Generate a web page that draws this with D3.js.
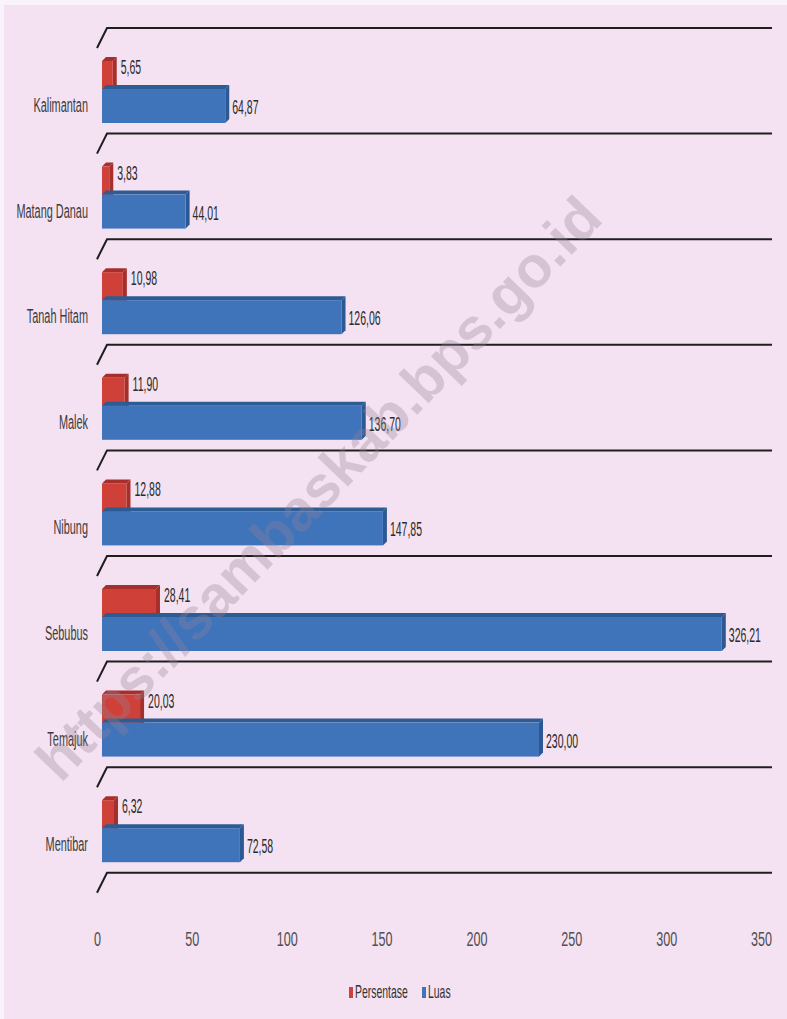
<!DOCTYPE html>
<html><head><meta charset="utf-8">
<script src="https://cdn.jsdelivr.net/npm/d3@7/dist/d3.min.js"></script>
<style>
html,body{margin:0;padding:0;background:#fff;}
svg{display:block;}
</style></head>
<body>
<script>
const categories = ["Kalimantan","Matang Danau","Tanah Hitam","Malek","Nibung","Sebubus","Temajuk","Mentibar"];
const persentase = [5.65,3.83,10.98,11.90,12.88,28.41,20.03,6.32];
const luas = [64.87,44.01,126.06,136.70,147.85,326.21,230.00,72.58];
const tickValues = [0,50,100,150,200,250,300,350];
const seriesNames = ["Persentase","Luas"];

const W = 787, H = 1019;
const font = "'Liberation Sans',Arial,sans-serif";
const svg = d3.select("body").append("svg").attr("width", W).attr("height", H);

svg.append("rect").attr("x",0).attr("y",0).attr("width",W).attr("height",H).attr("fill","#fbf3fb");
svg.append("rect").attr("x",4).attr("y",5).attr("width",W-4).attr("height",H-5).attr("fill","#f4e2f2");

const x = d3.scaleLinear().domain([0,350]).range([102,767]);
const xAxisScale = d3.scaleLinear().domain([0,350]).range([97,761]);
const y = d3.scaleBand().domain(categories).range([28, 28+105.6*8]).paddingInner(0).paddingOuter(0);

function ctext(sel, tx, ty, str, opts) {
  const o = Object.assign({size:21, sx:0.5, anchor:"start", fill:"#2a2a2a"}, opts||{});
  sel.append("g").attr("transform", `translate(${tx},${ty})`)
    .append("text").attr("transform", `scale(${o.sx},1)`)
    .attr("text-anchor", o.anchor).attr("dominant-baseline","central")
    .attr("font-family", font).attr("font-size", o.size).attr("fill", o.fill).text(str);
}

// separator lines with slanted left edge
const lineYs = d3.range(categories.length+1).map(i => 28 + i*105.6);
const g = svg.append("g");
lineYs.forEach(ly => {
  g.append("path")
    .attr("d", `M97,${ly+20} L${107},${ly} L${772},${ly}`)
    .attr("fill","none").attr("stroke","#1e1e1e").attr("stroke-width",2);
});

const dx = 4, dy = 4;
function bar3d(sel, x0, x1, top, h, cFront, cTop, cSide) {
  sel.append("polygon")
    .attr("points", `${x0},${top} ${x0+dx},${top-dy} ${x1+dx},${top-dy} ${x1},${top}`)
    .attr("fill", cTop);
  sel.append("polygon")
    .attr("points", `${x1},${top} ${x1+dx},${top-dy} ${x1+dx},${top+h-dy} ${x1},${top+h}`)
    .attr("fill", cSide);
  sel.append("rect").attr("x",x0).attr("y",top).attr("width",x1-x0).attr("height",h).attr("fill",cFront);
}

categories.forEach((c,i) => {
  const L = y(c);
  const gg = svg.append("g");
  bar3d(gg, x(0), x(persentase[i]), L+33, 34, "#cf4038", "#a5302b", "#a5302b");
  bar3d(gg, x(0), x(luas[i]), L+61, 34, "#3f74bb", "#2d5b94", "#2c5893");
  ctext(gg, x(persentase[i])+8, L+39, persentase[i].toFixed(2).replace(".",","));
  ctext(gg, x(luas[i])+7, L+79, luas[i].toFixed(2).replace(".",","));
  ctext(gg, 88, L+77, c, {anchor:"end", fill:"#3c3c3c", size:21, sx:0.52});
});

// x axis
const axis = svg.append("g").attr("transform","translate(0,928)")
  .call(d3.axisBottom(xAxisScale).tickValues(tickValues).tickSize(0).tickFormat(d3.format("d")));
axis.select(".domain").remove();
axis.selectAll("text").attr("font-family",font).attr("font-size",21).attr("fill","#505050")
  .attr("transform","scale(0.6,1)");

// legend
const lg = svg.append("g").attr("transform","translate(0,992)");
const legendItems = [{n:seriesNames[0], c:"#cf4038", x:349},{n:seriesNames[1], c:"#3f74bb", x:422}];
legendItems.forEach(it => {
  lg.append("rect").attr("x",it.x).attr("y",-5).attr("width",4).attr("height",11).attr("fill",it.c);
  ctext(lg, it.x+6, 0, it.n, {size:18, sx:0.58, fill:"#333"});
});

// watermark
svg.append("text").attr("transform","translate(318,488) rotate(-46)")
  .attr("text-anchor","middle").attr("dominant-baseline","central")
  .attr("font-family","'Liberation Sans',sans-serif").attr("font-weight","bold").attr("font-size",58)
  .attr("fill","rgba(150,130,150,0.32)").text("https://sambaskab.bps.go.id");
</script>
</body></html>
